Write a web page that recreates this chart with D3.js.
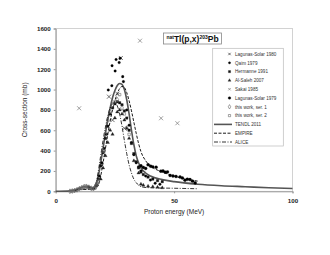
<!DOCTYPE html>
<html>
<head>
<meta charset="utf-8">
<script src="https://cdn.jsdelivr.net/npm/d3@7"></script>
<style>
  body { margin: 0; background: #fff; }
  svg { font-family: "Liberation Sans", Arial, sans-serif; }
</style>
</head>
<body>
<div id="chart"></div>
<script>
// valores leídos a ojo del gráfico
const xTicks = [0, 50, 100];
const yTicks = [0, 200, 400, 600, 800, 1000, 1200, 1400, 1600];

const lagunas1980 = [[27.5, 1310], [22.5, 930], [26, 960], [24, 700], [29, 620]];
const qaim1979 = [[17.5, 60], [18.5, 150], [19.5, 280], [20.5, 420], [21.5, 560], [22.2, 996], [23.7, 1038],
  [23.8, 1235], [25.1, 1183], [25.5, 1295], [26.8, 1265], [27.2, 1308], [28.3, 1127], [28.6, 1078],
  [30, 800], [31, 650], [32, 480], [33, 360], [34, 280], [35, 240], [36, 200], [38, 150], [40, 110], [42, 80], [44, 70]];
const hermanne1991 = [[14, 40], [16, 30], [17, 55], [18, 120], [19, 250], [20, 380], [21, 520], [22, 640],
  [23, 760], [24, 820], [25, 860], [26, 880], [27, 870], [28, 850], [29, 790], [30, 720], [31, 600], [32, 470],
  [33, 370], [34, 290], [35, 230], [36, 190], [37, 165], [39, 140], [41, 120], [43, 105], [45, 95]];
const alSaleh2007 = [[19, 120], [20, 230], [21, 350], [22, 480], [23, 600], [24, 560], [25, 720], [26, 780],
  [27, 800], [28, 760], [29, 700], [30, 620], [31, 520], [33, 300], [35, 180], [36, 70], [37, 60], [39, 50],
  [41, 45], [43, 40], [45, 35]];
const sakai1985 = [[9.9, 816], [35.6, 1480], [44.5, 718], [51.4, 669]];
const lagunas1979 = [[36, 250], [37, 235], [38, 225], [39, 260], [40.1, 247], [41, 240], [42.4, 236], [44.4, 198],
  [45.3, 200], [46.2, 188], [47.2, 190], [48.3, 156], [49.5, 150], [50.8, 146], [52.5, 140], [53.5, 130],
  [54.6, 108], [55.6, 118], [56.7, 115], [57.8, 100], [58.9, 82]];
const thisWork1 = [[6, 0], [7, 3], [8, 8], [9, 15], [10, 25], [11, 35], [12, 45], [13, 48], [14, 40], [15, 30],
  [16, 28], [17, 45], [17.5, 80], [18, 100], [20, 400], [22, 700], [24, 850], [26, 900], [28, 820], [30, 620]];
const thisWork2 = [[6.5, 2], [7.5, 5], [8.5, 10], [9.5, 20], [10.5, 30], [11.5, 40], [12.5, 50], [13.5, 45],
  [14.5, 35], [15.5, 25], [16.5, 30], [17.2, 60], [17.8, 90], [21, 560], [23, 780], [25, 880], [27, 950], [29, 760], [31, 560]];

const tendlE = [0, 5, 8, 10, 12, 14, 16, 17, 18, 19, 20, 21, 22, 23, 24, 25, 26, 27, 28, 29, 30, 31, 32, 33, 34, 35,
  36, 38, 40, 45, 50, 60, 70, 80, 90, 100];
const tendlV = [0, 2, 12, 30, 45, 40, 30, 60, 150, 280, 420, 570, 700, 820, 920, 990, 1040, 1060, 1050, 1000, 900,
  760, 600, 460, 350, 280, 230, 180, 150, 115, 95, 70, 55, 45, 35, 28];
const empireE = [8, 10, 15, 18, 19, 20, 21, 22, 23, 24, 25, 26, 27, 28, 29, 30, 31, 32, 33, 34, 35, 36, 38, 40, 45, 50, 55, 60];
const empireV = [5, 20, 20, 60, 150, 280, 420, 560, 690, 800, 890, 960, 1010, 1030, 1020, 970, 890, 790, 680, 570,
  470, 390, 300, 250, 190, 150, 120, 100];
const aliceE = [8, 10, 15, 17, 18, 19, 20, 21, 22, 23, 24, 25, 26, 27, 28, 29, 30, 31, 32, 33, 34, 35, 37, 40, 50, 60];
const aliceV = [5, 20, 20, 80, 200, 350, 500, 630, 740, 820, 860, 870, 840, 760, 640, 500, 370, 260, 180, 120, 85,
  60, 40, 35, 30, 25];

const legendLabels = ['Lagunas-Solar 1980', 'Qaim 1979', 'Hermanne 1991', 'Al-Saleh 2007', 'Sakai 1985',
  'Lagunas-Solar 1979', 'this work, ser. 1', 'this work, ser. 2', 'TENDL 2011', 'EMPIRE', 'ALICE'];

const W = 330, H = 255;
const svg = d3.select('#chart').append('svg').attr('width', W).attr('height', H);

const x = d3.scaleLinear().domain([0, 100]).range([55.7, 292.5]);
const y = d3.scaleLinear().domain([0, 1600]).range([191.3, 28.5]);

// marco del área de trazado
svg.append('rect').attr('x', x(0)).attr('y', y(1600)).attr('width', x(100) - x(0)).attr('height', y(0) - y(1600))
  .attr('fill', 'none').attr('stroke', '#c8c8c8').attr('stroke-width', 0.8);

// ejes
const yAxis = svg.append('g').attr('transform', `translate(${x(0)},0)`)
  .call(d3.axisLeft(y).tickValues(yTicks).tickFormat(d3.format('d')).tickSize(2).tickPadding(3));
const xAxis = svg.append('g').attr('transform', `translate(0,${y(0)})`)
  .call(d3.axisBottom(x).tickValues(xTicks).tickFormat(d3.format('d')).tickSize(2).tickPadding(5));
[xAxis, yAxis].forEach(g => {
  g.select('.domain').attr('stroke', '#999');
  g.selectAll('.tick line').attr('stroke', '#999');
  g.selectAll('text').attr('font-size', 6.2).attr('font-weight', 'bold').attr('fill', '#222')
    .attr('font-family', '"Liberation Sans", Arial, sans-serif');
});

svg.append('text').attr('x', x(50)).attr('y', 214).attr('text-anchor', 'middle')
  .attr('font-size', 6.5).attr('fill', '#222').text('Proton energy (MeV)');
svg.append('text').attr('transform', `translate(27,${(y(0) + y(1600)) / 2}) rotate(-90)`)
  .attr('text-anchor', 'middle').attr('font-size', 6.5).attr('fill', '#222').text('Cross-section (mb)');

// curvas teóricas
const line = d3.line().x(d => x(d[0])).y(d => y(d[1])).curve(d3.curveMonotoneX);
const g = svg.append('g');
g.append('path').datum(d3.zip(tendlE, tendlV)).attr('d', line)
  .attr('fill', 'none').attr('stroke', '#555').attr('stroke-width', 1.6);
g.append('path').datum(d3.zip(empireE, empireV)).attr('d', line)
  .attr('fill', 'none').attr('stroke', '#000').attr('stroke-width', 0.9).attr('stroke-dasharray', '3,1.5');
g.append('path').datum(d3.zip(aliceE, aliceV)).attr('d', line)
  .attr('fill', 'none').attr('stroke', '#000').attr('stroke-width', 0.8).attr('stroke-dasharray', '4,1.5,1,1.5');

// series experimentales
const series = [
  { d: lagunas1980, type: 'x', size: 2, color: '#333' },
  { d: qaim1979, type: d3.symbolCircle, size: 5, color: '#000' },
  { d: hermanne1991, type: d3.symbolSquare, size: 6, color: '#111' },
  { d: alSaleh2007, type: d3.symbolTriangle, size: 5, color: '#222' },
  { d: sakai1985, type: 'x', size: 2, color: '#777' },
  { d: lagunas1979, type: d3.symbolCircle, size: 7, color: '#000' },
  { d: thisWork1, type: d3.symbolDiamond, size: 7, color: '#666', open: true },
  { d: thisWork2, type: d3.symbolSquare, size: 6, color: '#666', open: true },
];

function drawMark(sel, s, cx, cy) {
  if (s.type === 'x') {
    const r = s.size;
    sel.append('path').attr('d', `M${cx - r},${cy - r}L${cx + r},${cy + r}M${cx - r},${cy + r}L${cx + r},${cy - r}`)
      .attr('stroke', s.color).attr('stroke-width', 0.7);
  } else {
    sel.append('path').attr('transform', `translate(${cx},${cy})`)
      .attr('d', d3.symbol().type(s.type).size(s.size)())
      .attr('fill', s.open ? 'none' : s.color)
      .attr('stroke', s.color).attr('stroke-width', s.open ? 0.6 : 0.3);
  }
}

const pts = svg.append('g');
series.forEach(s => s.d.forEach(p => drawMark(pts, s, x(p[0]), y(p[1]))));

// título
const tb = svg.append('g');
tb.append('rect').attr('x', 163.5).attr('y', 33).attr('width', 58).attr('height', 11)
  .attr('fill', '#fff').attr('stroke', '#888').attr('stroke-width', 0.8);
const tt = tb.append('text').attr('x', 192.5).attr('y', 41.8).attr('text-anchor', 'middle')
  .attr('font-weight', 'bold').attr('font-size', 8.5).attr('fill', '#111');
tt.append('tspan').attr('font-size', 5).attr('dy', -3).text('nat');
tt.append('tspan').attr('dy', 3).text('Tl(p,x)');
tt.append('tspan').attr('font-size', 5).attr('dy', -3).text('203');
tt.append('tspan').attr('dy', 3).text('Pb');

// leyenda
const lg = svg.append('g');
lg.append('rect').attr('x', 212.7).attr('y', 48.3).attr('width', 70.6).attr('height', 97.7)
  .attr('fill', '#fff').attr('stroke', '#bbb').attr('stroke-width', 0.7);
legendLabels.forEach((lab, i) => {
  const ly = 54 + i * 8.8;
  if (i < series.length) {
    drawMark(lg, Object.assign({}, series[i], { size: series[i].type === 'x' ? 1.2 : series[i].size * 0.8 }), 229.5, ly);
  } else {
    const st = [
      { c: '#555', w: 1.6, da: null },
      { c: '#000', w: 0.9, da: '3,1.5' },
      { c: '#000', w: 0.8, da: '4,1.5,1,1.5' },
    ][i - series.length];
    lg.append('line').attr('x1', 214).attr('x2', 232).attr('y1', ly).attr('y2', ly)
      .attr('stroke', st.c).attr('stroke-width', st.w).attr('stroke-dasharray', st.da);
  }
  lg.append('text').attr('x', 235).attr('y', ly + 1.7).attr('font-size', 4.6).attr('fill', '#333').text(lab);
});
</script>
</body>
</html>
